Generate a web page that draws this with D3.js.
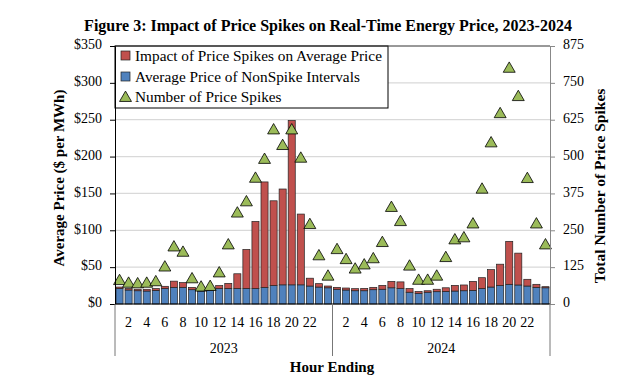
<!DOCTYPE html>
<html><head><meta charset="utf-8">
<script src="https://cdn.jsdelivr.net/npm/d3@7"></script>
<style>
body{margin:0;background:#fff;}
svg{display:block;font-family:"Liberation Serif","Times New Roman",serif;}
</style></head>
<body>
<svg id="chart" width="623" height="381"></svg>
<script>
const years = ["2023", "2024"];
const hours = d3.range(1, 25);
const hourTickLabels = ["2","4","6","8","10","12","14","16","18","20","22"];
const nonSpike2023 = [21,19,18,17.6,18.5,21,22.6,22.6,19.4,17.6,18.5,21,21,21,21,21,22.6,25,26,26,26,24.4,23,22];
const impact2023   = [2,2,2,2.4,2.5,3,8.4,6.4,3.2,0.5,0.3,4,7,20,53,91,143,115,130,223,96,10.6,4.6,2.4];
const spikes2023   = [81,72,70,72,77,127,195,177,87,59,61,107,202,310,348,428,492,592,539,592,496,271,165,96];
const nonSpike2024 = [20,19,18,18,19.4,20,22,21,16,14.5,16,16.7,17,17.6,18,18.5,21,23,25,26.7,25.8,24.4,22.6,22];
const impact2024   = [2.6,2.7,2.8,3.2,3.2,5.3,8.7,9,5,2.5,2,3.3,5,7.7,7.8,12.2,14.7,23.6,29,58.3,43.2,9.1,4.1,1.5];
const spikes2024   = [186,152,120,134,155,210,329,281,130,82,82,96,159,219,226,273,391,548,647,801,705,427,273,202];
const priceTicks = [0,50,100,150,200,250,300,350];
const spikeTicks = [0,125,250,375,500,625,750,875];
const legendLabels = ["Impact of Price Spikes on Average Price","Average Price of NonSpike Intervals","Number of Price Spikes"];

const colors = {red:"#c0504d", blue:"#4f81bd", green:"#9bbb59"};
const FONT = "Liberation Serif";

const rows = [];
years.forEach((yr, yi) => {
  const ns = yi === 0 ? nonSpike2023 : nonSpike2024;
  const im = yi === 0 ? impact2023 : impact2024;
  const sp = yi === 0 ? spikes2023 : spikes2024;
  hours.forEach((h, hi) => rows.push({key: yr + "-" + h, year: yr, hour: h, ns: ns[hi], im: im[hi], sp: sp[hi]}));
});

const svg = d3.select("#chart").attr("font-family", FONT);
const L = 115, R = 550, T = 46, B = 304;

const x = d3.scaleBand().domain(rows.map(d => d.key)).range([L, R]).paddingInner(0.22).paddingOuter(0.11);
const y = d3.scaleLinear().domain([0, 350]).range([B, T]);
const y2 = d3.scaleLinear().domain([0, 875]).range([B, T]);

// gridlines
svg.append("g").selectAll("line").data(priceTicks.filter(t => t > 0 && t < 350)).join("line")
  .attr("x1", L).attr("x2", R).attr("y1", d => y(d)).attr("y2", d => y(d))
  .attr("stroke", "#d9d9d9").attr("stroke-width", 1.3);

// bars
const bars = svg.append("g");
bars.selectAll("rect.ns").data(rows).join("rect").attr("class", "ns")
  .attr("x", d => x(d.key)).attr("width", x.bandwidth())
  .attr("y", d => y(d.ns)).attr("height", d => y(0) - y(d.ns))
  .attr("fill", colors.blue).attr("stroke", "#222").attr("stroke-width", 0.7);
bars.selectAll("rect.im").data(rows).join("rect").attr("class", "im")
  .attr("x", d => x(d.key)).attr("width", x.bandwidth())
  .attr("y", d => y(d.ns + d.im)).attr("height", d => y(d.ns) - y(d.ns + d.im))
  .attr("fill", colors.red).attr("stroke", "#222").attr("stroke-width", 0.7);

// legend box (white, over plot top)
const lg = svg.append("g");
lg.append("rect").attr("x", L).attr("y", T).attr("width", 273).attr("height", 62)
  .attr("fill", "#fff").attr("stroke", "#000").attr("stroke-width", 1);

// triangles
const tri = d3.symbol().type(d3.symbolTriangle).size(62);
svg.append("g").selectAll("path").data(rows).join("path")
  .attr("d", tri)
  .attr("transform", d => `translate(${x(d.key) + x.bandwidth()/2},${y2(d.sp) + 1})`)
  .attr("fill", colors.green).attr("stroke", "#000").attr("stroke-width", 0.8);

// plot border top
svg.append("line").attr("x1", L).attr("x2", R).attr("y1", T).attr("y2", T).attr("stroke", "#333").attr("stroke-width", 1);

// left axis
const yAxis = d3.axisLeft(y).tickValues(priceTicks).tickSize(5).tickFormat(d => "$" + d);
const gy = svg.append("g").attr("transform", `translate(${L},0)`).call(yAxis).attr("font-family", FONT);
gy.select(".domain").attr("stroke", "#000");
gy.selectAll(".tick line").attr("stroke", "#000");
gy.selectAll("text").attr("font-size", 14).attr("fill", "#000").attr("x", -13).attr("dy", "0.2em");

// right axis
const yAxis2 = d3.axisRight(y2).tickValues(spikeTicks).tickSize(5);
const gy2 = svg.append("g").attr("transform", `translate(${R},0)`).call(yAxis2).attr("font-family", FONT);
gy2.select(".domain").attr("stroke", "#888");
gy2.selectAll(".tick line").attr("stroke", "#888");
gy2.selectAll("text").attr("font-size", 14).attr("fill", "#000").attr("x", 13).attr("dy", "0.2em");

// bottom axis
svg.append("line").attr("x1", L).attr("x2", R).attr("y1", B).attr("y2", B).attr("stroke", "#000");
const xAxis = d3.axisBottom(x)
  .tickValues(rows.filter(d => hourTickLabels.includes(String(d.hour))).map(d => d.key))
  .tickSize(0).tickFormat(k => k.split("-")[1]);
const gx = svg.append("g").attr("transform", `translate(0,${B})`).call(xAxis).attr("font-family", FONT);
gx.select(".domain").remove();
gx.selectAll("text").attr("font-size", 14).attr("fill", "#000").attr("y", 13).attr("dy", "0.71em");

// year group separators
const bounds = [L, (x(rows[23].key) + x.bandwidth() + x(rows[24].key))/2, R];
svg.append("g").selectAll("line").data(bounds).join("line")
  .attr("x1", d => d).attr("x2", d => d).attr("y1", B).attr("y2", 356)
  .attr("stroke", "#777").attr("stroke-width", 1);
svg.append("g").selectAll("text").data(years).join("text")
  .attr("x", (d, i) => (bounds[i] + bounds[i+1]) / 2).attr("y", 353)
  .attr("text-anchor", "middle").attr("font-size", 14).text(d => d);

// legend items
const legY = [56, 77, 97];
legendLabels.forEach((t, i) => {
  if (i < 2) {
    lg.append("rect").attr("x", 121).attr("y", legY[i] - 5).attr("width", 9).attr("height", 9)
      .attr("fill", i === 0 ? colors.red : colors.blue).attr("stroke", "#222").attr("stroke-width", 0.7);
  } else {
    lg.append("path").attr("d", tri).attr("transform", `translate(125.5,${legY[i]+1})`)
      .attr("fill", colors.green).attr("stroke", "#000").attr("stroke-width", 0.8);
  }
  lg.append("text").attr("x", 135).attr("y", legY[i] + 5).attr("font-size", 15.3).text(t);
});

// titles
svg.append("text").attr("x", 328).attr("y", 31).attr("text-anchor", "middle")
  .attr("font-size", 16).attr("font-weight", "bold").text("Figure 3: Impact of Price Spikes on Real-Time Energy Price, 2023-2024");
svg.append("text").attr("transform", "translate(64,178) rotate(-90)").attr("text-anchor", "middle")
  .attr("font-size", 15).attr("font-weight", "bold").text("Average Price ($ per MWh)");
svg.append("text").attr("transform", "translate(605,186) rotate(-90)").attr("text-anchor", "middle")
  .attr("font-size", 15.5).attr("font-weight", "bold").text("Total Number of Price Spikes");
svg.append("text").attr("x", 332).attr("y", 372).attr("text-anchor", "middle")
  .attr("font-size", 15).attr("font-weight", "bold").text("Hour Ending");
</script>
</body></html>
